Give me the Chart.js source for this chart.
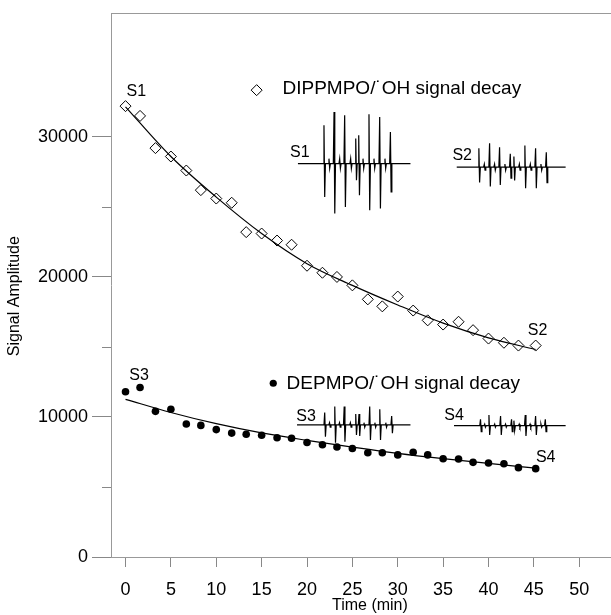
<!DOCTYPE html>
<html lang="en">
<head>
  <meta charset="UTF-8" />
  <title>Spin adduct signal decay</title>
  <script src="https://cdn.jsdelivr.net/npm/chart.js"></script>
  <style>
    body {
      margin: 0;
      padding: 0;
      background: #fff;
      overflow: hidden;
    }

    .chart-box {
      width: 611px;
      height: 615px;
      position: relative;
    }
  </style>
</head>
<body>
  <div class="chart-box">
    <canvas id="decayChart"></canvas>
  </div>

  <script>
    // sampling times (min), same for both adducts
    const times = [0, 1.6, 3.3, 5.0, 6.7, 8.3, 10.0, 11.7, 13.3, 15.0, 16.7, 18.3, 20.0, 21.7,
      23.3, 25.0, 26.7, 28.3, 30.0, 31.7, 33.3, 35.0, 36.7, 38.3, 40.0, 41.7, 43.3, 45.2];

    // DIPPMPO/OH amplitudes (diamonds)
    const dippmpo = [32200, 31500, 29200, 28600, 27600, 26200, 25600, 25300, 23200, 23100,
      22600, 22300, 20800, 20300, 20000, 19400, 18400, 17900, 18600, 17600,
      16900, 16600, 16800, 16200, 15600, 15300, 15100, 15100];

    // DEPMPO/OH amplitudes (dots)
    const depmpo = [11800, 12100, 10400, 10550, 9500, 9400, 9100, 8850, 8770, 8700,
      8520, 8480, 8180, 8020, 7860, 7750, 7450, 7450, 7290, 7480,
      7290, 7020, 7000, 6760, 6710, 6660, 6380, 6310];

    // fitted decay curves
    const fitTimes = [0, 5, 10, 15, 20, 25, 30, 35, 40, 45.2];
    const dippmpoFit = [32150, 28600, 25700, 23100, 20950, 19400, 18000, 16700, 15650, 14820];
    const depmpoFit = [11260, 10320, 9520, 8860, 8330, 7850, 7400, 7020, 6680, 6350];

    // axis ticks
    const xTicks = [0, 5, 10, 15, 20, 25, 30, 35, 40, 45, 50];
    const yTicks = [0, 5000, 10000, 15000, 20000, 25000, 30000];

    // ESR spectra insets: [line position (min), up amplitude, down amplitude]
    const specS1 = {
      from: 19.0, to: 31.4, base: 28100, smallAmp: 350,
      peaks: [[21.89, 2735, 2385], [23.00, 3685, 3570], [24.17, 3450, 3100], [25.39, 1785, 1190],
        [25.72, 2020, 2265], [26.85, 3520, 3335], [28.03, 3330, 3215], [29.21, 2255, 2030]],
      small: [22.44, 23.62, 24.83, 26.19, 27.40, 28.61]
    };
    const specS2 = {
      from: 36.5, to: 48.5, base: 27840, smallAmp: 220,
      peaks: [[38.96, 1357, 1100], [40.14, 1714, 1385], [41.24, 1428, 1264], [42.42, 950, 785],
        [42.82, 757, 957], [44.03, 1542, 1500], [45.21, 1357, 1500], [46.39, 1071, 1100]],
      small: [39.56, 40.69, 41.83, 43.42, 44.63, 45.80]
    };
    const specS3 = {
      from: 18.9, to: 31.4, base: 9430, smallAmp: 160,
      peaks: [[21.97, 880, 835], [23.08, 1310, 1265], [24.12, 1310, 1190], [25.39, 785, 715],
        [25.75, 785, 785], [26.93, 1310, 1070], [28.04, 1120, 1070], [29.35, 640, 590]],
      small: [22.5, 23.6, 24.8, 26.3, 27.5, 28.7]
    };
    const specS4 = {
      from: 36.2, to: 48.5, base: 9380, smallAmp: 110,
      peaks: [[39.14, 457, 428], [40.07, 764, 664], [41.35, 693, 664], [42.56, 457, 428],
        [42.82, 357, 357], [44.07, 764, 735], [45.21, 693, 664], [46.28, 457, 428]],
      small: [39.6, 40.7, 41.9, 43.4, 44.6, 45.8]
    };

    // text labels anchored in data coordinates: [text, time, amplitude, size]
    const labels = [
      ['S1', 1.2, 33250, 16], ['S2', 45.4, 16180, 16],
      ['S3', 1.5, 12980, 16], ['S4', 46.3, 7090, 16],
      ['S1', 19.2, 28890, 16], ['S2', 37.1, 28660, 16],
      ['S3', 19.9, 10020, 16], ['S4', 36.2, 10120, 16]
    ];
    const legendItems = [
      { marker: 'diamond', mt: 14.45, mv: 33340, text: 'DIPPMPO/\u02D9OH signal decay', tt: 17.3, tv: 33450 },
      { marker: 'dot', mt: 16.28, mv: 12410, text: 'DEPMPO/\u02D9OH signal decay', tt: 17.75, tv: 12380 }
    ];

    const FONT = "'Liberation Sans', Arial, sans-serif";

    function toPoints(xs, ys) {
      return xs.map((x, i) => ({ x: x, y: ys[i] }));
    }

    function spectrumPoints(spec) {
      const lines = spec.peaks.concat(spec.small.map(t => [t, spec.smallAmp, spec.smallAmp]))
        .sort((a, b) => a[0] - b[0]);
      const pts = [{ x: spec.from, y: spec.base }];
      lines.forEach(([t, up, down]) => {
        pts.push({ x: t - 0.1, y: spec.base });
        pts.push({ x: t - 0.02, y: spec.base + up });
        pts.push({ x: t + 0.06, y: spec.base - down });
        pts.push({ x: t + 0.14, y: spec.base });
      });
      pts.push({ x: spec.to, y: spec.base });
      return pts;
    }

    function spectrumDataset(spec) {
      return {
        data: spectrumPoints(spec),
        showLine: true,
        borderColor: '#000',
        borderWidth: 1.2,
        pointRadius: 0,
        tension: 0
      };
    }

    // frame line on top, minor y ticks, text labels and legend
    const decorPlugin = {
      id: 'decor',
      afterDraw(chart) {
        const ctx = chart.ctx;
        const area = chart.chartArea;
        const xs = chart.scales.x;
        const ys = chart.scales.y;
        ctx.save();

        ctx.strokeStyle = '#999';
        ctx.lineWidth = 1;
        ctx.beginPath();
        ctx.moveTo(area.left, area.top + 0.5);
        ctx.lineTo(area.right, area.top + 0.5);
        ctx.stroke();

        ctx.strokeStyle = '#888';
        yTicks.filter(v => v % 10000 !== 0).forEach(v => {
          const py = Math.round(ys.getPixelForValue(v)) + 0.5;
          ctx.beginPath();
          ctx.moveTo(area.left - 9, py);
          ctx.lineTo(area.left, py);
          ctx.stroke();
        });

        ctx.fillStyle = '#000';
        ctx.textAlign = 'center';
        ctx.textBaseline = 'middle';
        labels.forEach(([txt, t, v, size]) => {
          ctx.font = size + 'px ' + FONT;
          ctx.fillText(txt, xs.getPixelForValue(t), ys.getPixelForValue(v));
        });

        ctx.textAlign = 'left';
        ctx.font = '19px ' + FONT;
        legendItems.forEach(item => {
          const mx = xs.getPixelForValue(item.mt);
          const my = ys.getPixelForValue(item.mv);
          ctx.beginPath();
          if (item.marker === 'diamond') {
            ctx.moveTo(mx, my - 5.5);
            ctx.lineTo(mx + 5.5, my);
            ctx.lineTo(mx, my + 5.5);
            ctx.lineTo(mx - 5.5, my);
            ctx.closePath();
            ctx.strokeStyle = '#000';
            ctx.lineWidth = 1;
            ctx.stroke();
          } else {
            ctx.arc(mx, my, 3.6, 0, Math.PI * 2);
            ctx.fill();
          }
          ctx.fillText(item.text, xs.getPixelForValue(item.tt), ys.getPixelForValue(item.tv));
        });
        ctx.restore();
      }
    };

    const ctx = document.getElementById('decayChart').getContext('2d');

    const decayChart = new Chart(ctx, {
      type: 'scatter',
      data: {
        datasets: [
          {
            label: 'DIPPMPO/OH',
            data: toPoints(times, dippmpo),
            pointStyle: 'rectRot',
            pointRadius: 5.5,
            pointBackgroundColor: 'rgba(0,0,0,0)',
            pointBorderColor: '#000',
            pointBorderWidth: 1
          },
          {
            label: 'DIPPMPO/OH fit',
            data: toPoints(fitTimes, dippmpoFit),
            showLine: true,
            borderColor: '#000',
            borderWidth: 1.2,
            pointRadius: 0,
            cubicInterpolationMode: 'monotone'
          },
          {
            label: 'DEPMPO/OH',
            data: toPoints(times, depmpo),
            pointStyle: 'circle',
            pointRadius: 3.8,
            pointBackgroundColor: '#000',
            pointBorderColor: '#000',
            pointBorderWidth: 0
          },
          {
            label: 'DEPMPO/OH fit',
            data: toPoints(fitTimes, depmpoFit),
            showLine: true,
            borderColor: '#000',
            borderWidth: 1.2,
            pointRadius: 0,
            cubicInterpolationMode: 'monotone'
          },
          spectrumDataset(specS1),
          spectrumDataset(specS2),
          spectrumDataset(specS3),
          spectrumDataset(specS4)
        ]
      },
      options: {
        responsive: true,
        maintainAspectRatio: false,
        animation: false,
        layout: {
          autoPadding: false,
          padding: { top: 13, right: 0, bottom: 0, left: 0 }
        },
        plugins: {
          legend: { display: false },
          tooltip: { enabled: false }
        },
        scales: {
          x: {
            type: 'linear',
            min: -1.6,
            max: 53.5,
            afterBuildTicks: scale => { scale.ticks = xTicks.map(v => ({ value: v })); },
            afterFit: scale => {
              scale.height = 58;
              scale.paddingLeft = 0;
              scale.paddingRight = 0;
            },
            grid: {
              drawOnChartArea: false,
              tickLength: 10,
              tickColor: '#888'
            },
            border: { color: '#999', width: 1 },
            ticks: {
              color: '#000',
              padding: 12,
              maxRotation: 0,
              font: { family: FONT, size: 18 }
            },
            title: {
              display: true,
              text: '    Time (min)',
              color: '#000',
              padding: { top: 0, bottom: 0 },
              font: { family: FONT, size: 16 }
            }
          },
          y: {
            type: 'linear',
            min: 0,
            max: 38850,
            afterBuildTicks: scale => { scale.ticks = yTicks.map(v => ({ value: v })); },
            afterFit: scale => {
              scale.width = 111;
              scale.paddingTop = 0;
              scale.paddingBottom = 0;
            },
            grid: {
              drawOnChartArea: false,
              tickLength: 19,
              tickColor: c => (c.tick && c.tick.value % 10000 === 0) ? '#888' : 'rgba(0,0,0,0)'
            },
            border: { color: '#999', width: 1 },
            ticks: {
              color: '#000',
              padding: 4,
              font: { family: FONT, size: 18 },
              callback: v => (v % 10000 === 0 ? String(v) : '')
            },
            title: {
              display: true,
              text: 'Signal Amplitude     ',
              color: '#000',
              padding: { top: 5, bottom: 0 },
              font: { family: FONT, size: 16 }
            }
          }
        }
      },
      plugins: [decorPlugin]
    });
  </script>
</body>
</html>
